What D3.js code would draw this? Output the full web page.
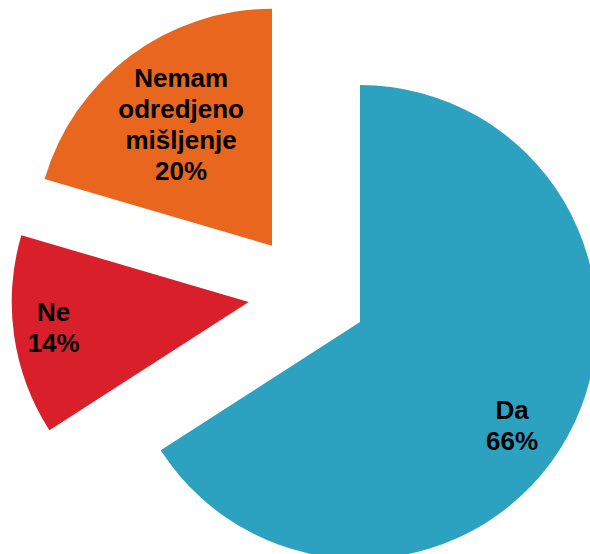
<!DOCTYPE html>
<html>
<head>
<meta charset="utf-8">
<script src="https://cdn.jsdelivr.net/npm/d3@7"></script>
<style>
  body { margin: 0; background: #fff; }
  svg { display: block; }
</style>
</head>
<body>
<svg id="chart" width="590" height="554"></svg>
<script>
// answers, clockwise from 12 o'clock
var labels = [['Da'], ['Ne'], ['Nemam', 'odredjeno', 'mišljenje']],
  values = [65.9, 13.65, 20.45],
  colors = ['#2ca2c0', '#d9202a', '#e9661f'];

var W = 590,
  H = 554,
  CX = 307.7,
  CY = 293.5,
  RADIUS = 237,
  EXPLODE = 59.6,
  FONT_SIZE = 26,
  LINE_H = 31,
  CAP_H = 18.7,
  // where the label sits inside each slice (fraction of radius, angle nudge in degrees)
  LABEL_R = [0.775, 0.83, 0.64],
  LABEL_NUDGE = [5.5, 0.7, 0];

var svg = d3.select('#chart');

var pie = d3.pie().sort(null).value(function(d) { return d; });
var arcs = pie(values);

var arc = d3.arc().innerRadius(0).outerRadius(RADIUS);

function offset(angle, r) {
  return [Math.sin(angle) * r, -Math.cos(angle) * r];
}

var slices = svg.append('g')
  .attr('transform', 'translate(' + CX + ',' + CY + ')')
  .selectAll('g')
  .data(arcs)
  .enter()
  .append('g')
  .attr('transform', function(d) {
    var o = offset((d.startAngle + d.endAngle) / 2, EXPLODE);
    return 'translate(' + o[0] + ',' + o[1] + ')';
  });

slices.append('path')
  .attr('d', arc)
  .attr('fill', function(d, i) { return colors[i]; });

// Labels
slices.each(function(d, i) {
  var mid = (d.startAngle + d.endAngle) / 2 + LABEL_NUDGE[i] * Math.PI / 180,
    p = offset(mid, RADIUS * LABEL_R[i]),
    lines = labels[i].concat([Math.round(values[i]) + '%']),
    firstBase = p[1] - ((lines.length - 1) * LINE_H + CAP_H) / 2 + CAP_H;

  var txt = d3.select(this).append('text')
    .attr('text-anchor', 'middle')
    .style('font-family', 'Liberation Sans, Arial, sans-serif')
    .style('font-size', FONT_SIZE + 'px')
    .style('font-weight', 700)
    .attr('fill', '#000');

  lines.forEach(function(line, j) {
    txt.append('tspan')
      .attr('x', p[0])
      .attr('y', firstBase + j * LINE_H)
      .text(line);
  });
});
</script>
</body>
</html>
